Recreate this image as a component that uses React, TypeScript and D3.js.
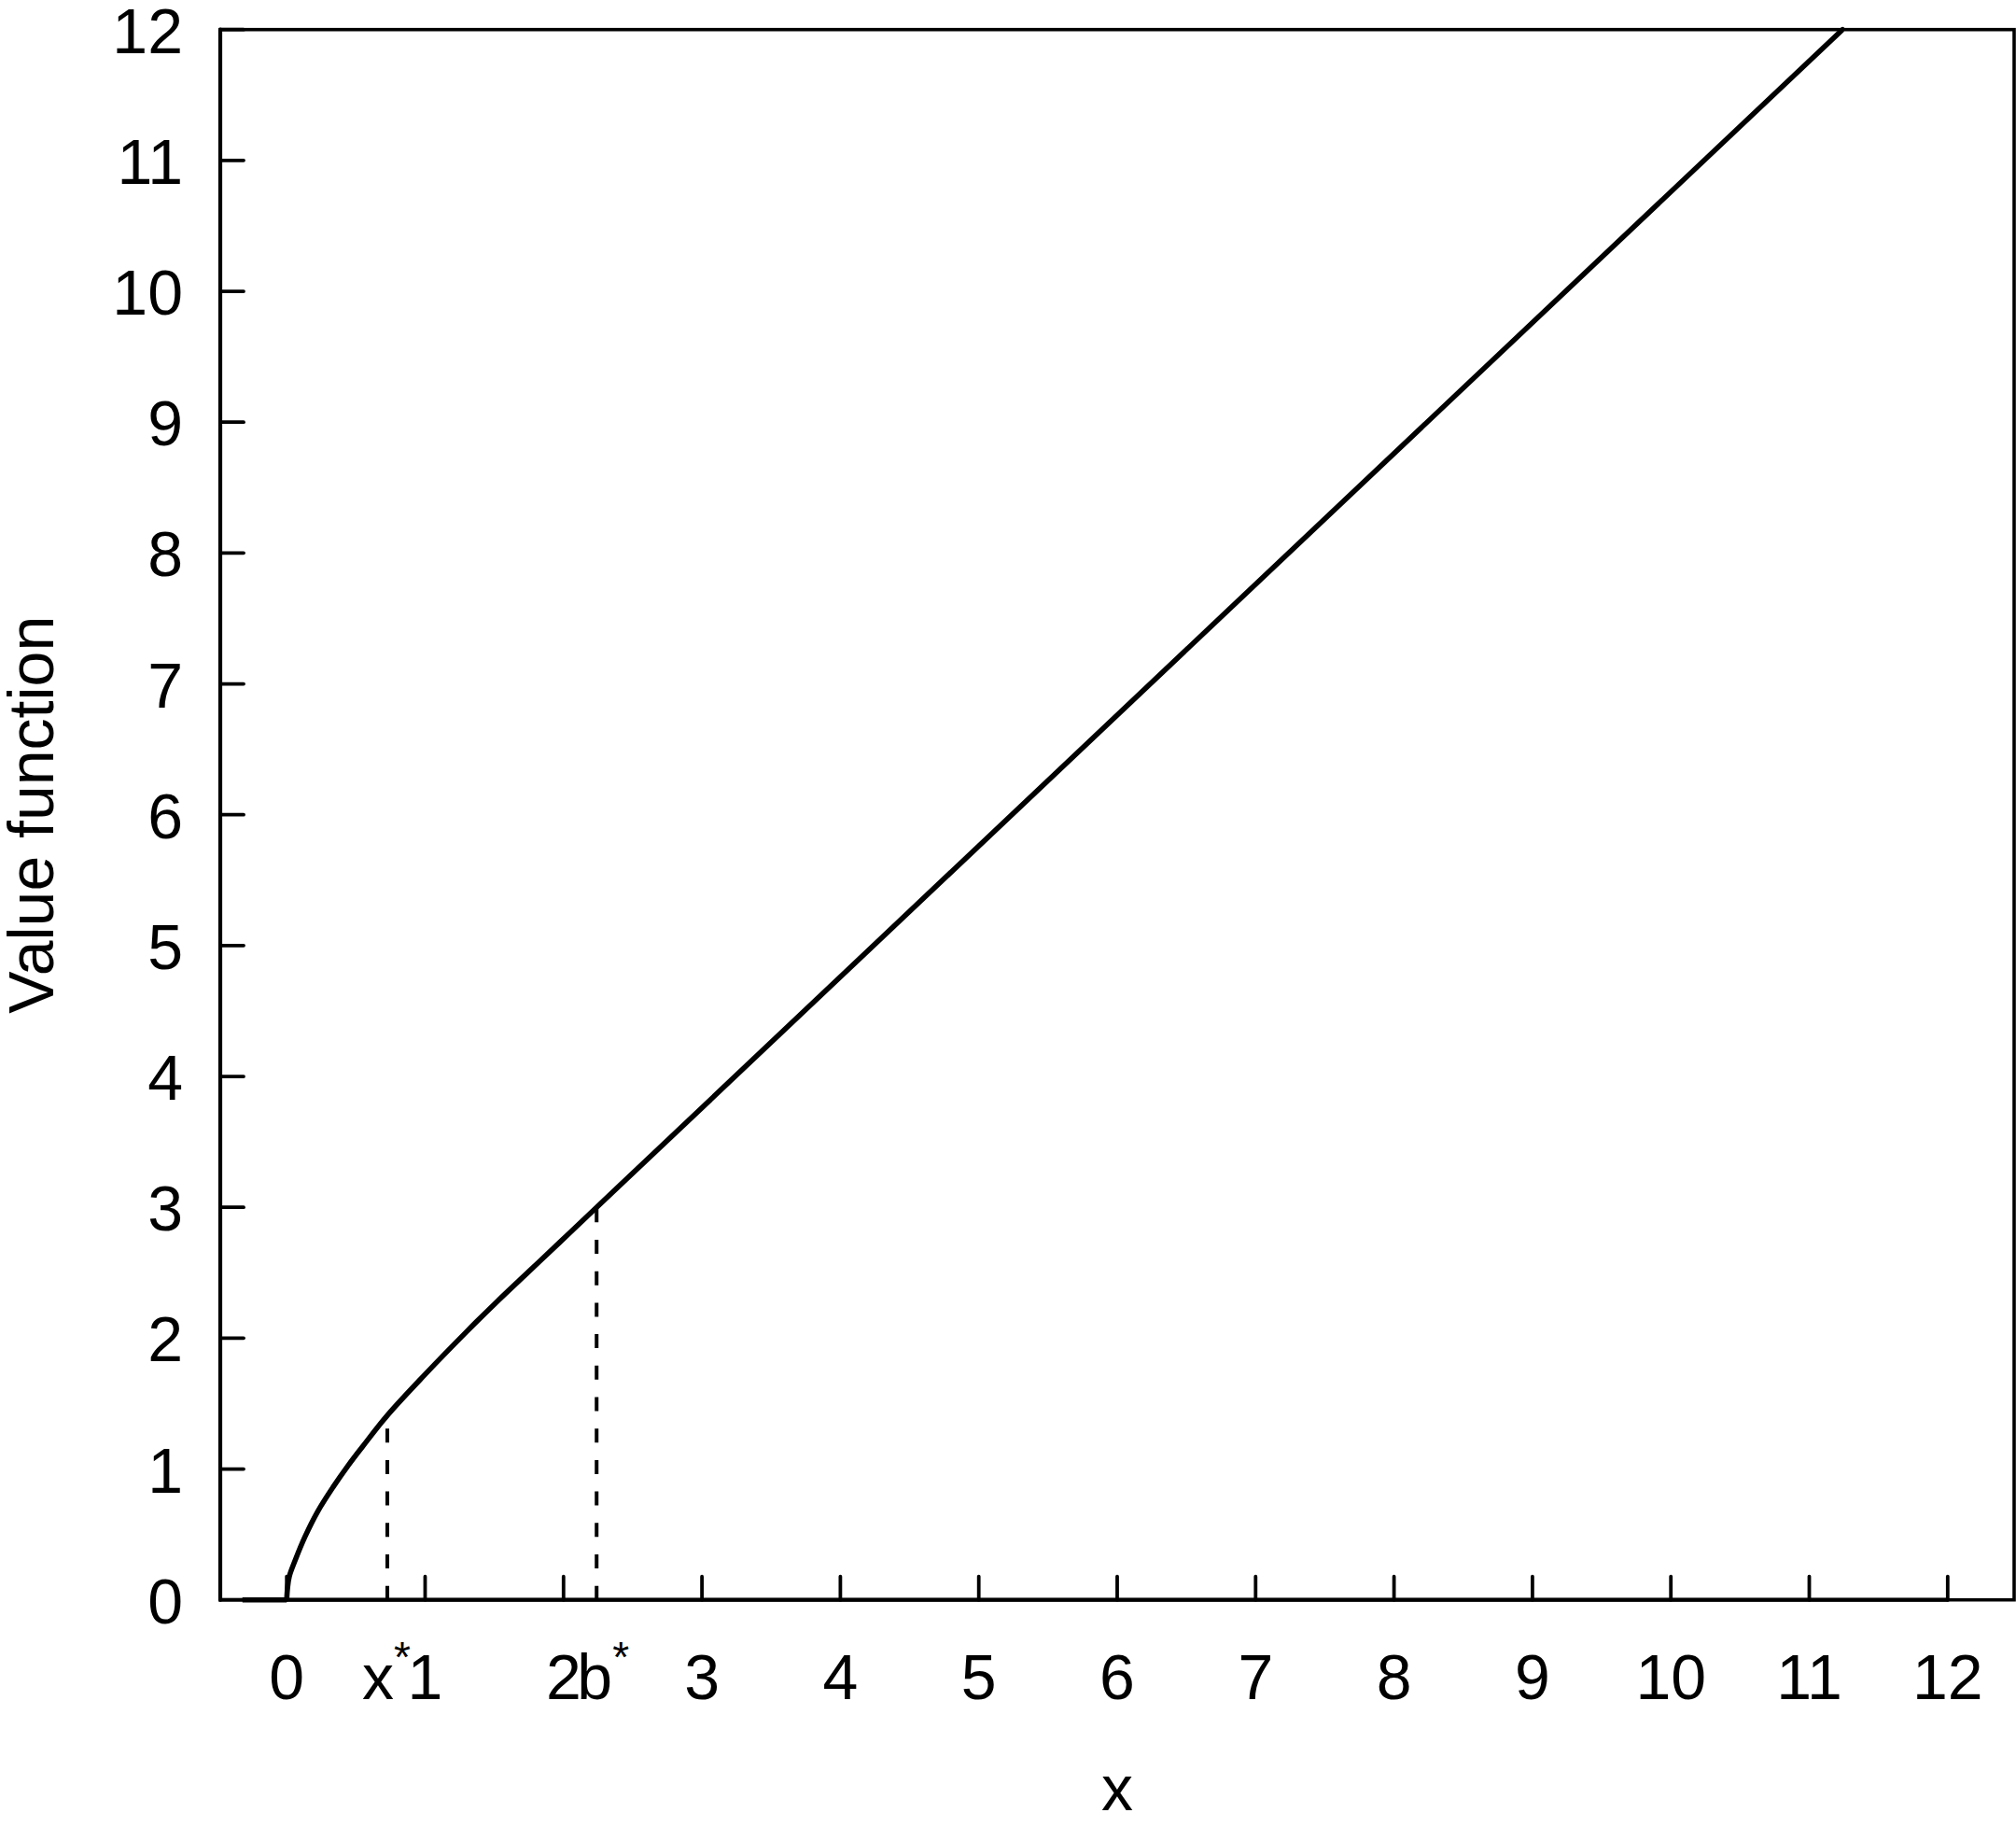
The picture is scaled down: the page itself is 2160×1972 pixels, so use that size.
import React from "react";
import * as d3 from "d3";

// ---- data ----
const xTicks = [0, 1, 2, 3, 4, 5, 6, 7, 8, 9, 10, 11, 12];
const yTicks = [0, 1, 2, 3, 4, 5, 6, 7, 8, 9, 10, 11, 12];
const xStar = 0.727;
const bStar = 2.239;
const xStarValue = 1.41;
const bStarValue = 3.0;
const curveX = [0, 0.006, 0.019, 0.064, 0.131, 0.221, 0.334, 0.446, 0.547, 0.727, 0.997, 1.3, 1.525, 1.75, 1.975, 2.239, 11.24];
const curveY = [0, 0.09, 0.18, 0.31, 0.48, 0.67, 0.86, 1.03, 1.17, 1.41, 1.72, 2.05, 2.285, 2.51, 2.735, 3.0, 12.0];
const flatX = [-0.32, 0];
const flatY = [0, 0];
const xDomain = [-0.48, 12.48];
const yDomain = [0, 12];
const xTitle = "x";
const yTitle = "Value function";

const W = 2160;
const H = 1972;
const left = 236;
const right = 2158;
const top = 31.7;
const bottom = 1713.7;
const FONT = "'Liberation Sans', Arial, Helvetica, sans-serif";
const FS = 68;

export default function App() {
  const x = d3.scaleLinear().domain(xDomain).range([left, right]);
  const y = d3.scaleLinear().domain(yDomain).range([bottom, top]);

  const pts: [number, number][] = curveX.map((v, i) => [v, curveY[i]]);
  const line = d3
    .line<[number, number]>()
    .x((d) => x(d[0]))
    .y((d) => y(d[1]))
    .curve(d3.curveCatmullRom.alpha(0.5));
  const flatPts: [number, number][] = flatX.map((v, i) => [v, flatY[i]]);
  const flatLine = d3
    .line<[number, number]>()
    .x((d) => x(d[0]))
    .y((d) => y(d[1]));

  const tickLen = 25;

  return (
    <svg
      width={W}
      height={H}
      viewBox={`0 0 ${W} ${H}`}
      style={{ position: "absolute", left: 0, top: 0, display: "block", background: "#fff" }}
    >
      <rect x={0} y={0} width={W} height={H} fill="#fff" />
      {/* box */}
      <rect
        x={left}
        y={top}
        width={right - left}
        height={bottom - top}
        fill="none"
        stroke="#000"
        strokeWidth={3.6}
      />
      {/* y axis line */}
      <line x1={left} x2={left} y1={y(12)} y2={y(0)} stroke="#000" strokeWidth={4.2} strokeLinecap="round" />
      {/* x axis line */}
      <line x1={x(0)} x2={x(12)} y1={bottom} y2={bottom} stroke="#000" strokeWidth={4.2} strokeLinecap="round" />

      {/* x ticks */}
      {xTicks.map((t) => (
        <line
          key={"xt" + t}
          x1={x(t)}
          x2={x(t)}
          y1={bottom}
          y2={bottom - tickLen}
          stroke="#000"
          strokeWidth={3.8}
          strokeLinecap="round"
        />
      ))}
      {/* y ticks */}
      {yTicks.map((t) => (
        <line
          key={"yt" + t}
          x1={left}
          x2={left + tickLen}
          y1={y(t)}
          y2={y(t)}
          stroke="#000"
          strokeWidth={3.8}
          strokeLinecap="round"
        />
      ))}

      {/* dashed reference segments */}
      <line
        x1={x(xStar)}
        x2={x(xStar)}
        y1={y(0)}
        y2={y(xStarValue)}
        stroke="#000"
        strokeWidth={4}
        strokeDasharray="15 18.7"
      />
      <line
        x1={x(bStar)}
        x2={x(bStar)}
        y1={y(0)}
        y2={y(bStarValue)}
        stroke="#000"
        strokeWidth={4}
        strokeDasharray="15 18.7"
      />

      {/* value function curve */}
      <path d={flatLine(flatPts) || ""} fill="none" stroke="#000" strokeWidth={5.6} />
      <path
        d={line(pts) || ""}
        fill="none"
        stroke="#000"
        strokeWidth={5.6}
        strokeLinejoin="round"
        strokeLinecap="butt"
      />

      {/* y tick labels */}
      {yTicks.map((t) => (
        <text
          key={"yl" + t}
          x={196}
          y={y(t) + 25}
          textAnchor="end"
          fontFamily={FONT}
          fontSize={FS}
          fill="#000"
        >
          {t}
        </text>
      ))}
      {/* x tick labels */}
      {xTicks.map((t) => (
        <text
          key={"xl" + t}
          x={x(t)}
          y={1820}
          textAnchor="middle"
          fontFamily={FONT}
          fontSize={FS}
          fill="#000"
        >
          {t}
        </text>
      ))}
      <text x={x(xStar) - 1} y={1820} textAnchor="middle" fontFamily={FONT} fontSize={FS} fill="#000">
        x
        <tspan fontSize={46} dy={-29}>
          *
        </tspan>
      </text>
      <text x={x(bStar) + 7} y={1820} textAnchor="middle" fontFamily={FONT} fontSize={FS} fill="#000">
        b
        <tspan fontSize={46} dy={-29}>
          *
        </tspan>
      </text>

      {/* axis titles */}
      <text x={(left + right) / 2} y={1939} textAnchor="middle" fontFamily={FONT} fontSize={FS} fill="#000">
        {xTitle}
      </text>
      <text
        transform={`translate(57, ${(top + bottom) / 2}) rotate(-90)`}
        textAnchor="middle"
        fontFamily={FONT}
        fontSize={FS}
        fill="#000"
      >
        {yTitle}
      </text>
    </svg>
  );
}
